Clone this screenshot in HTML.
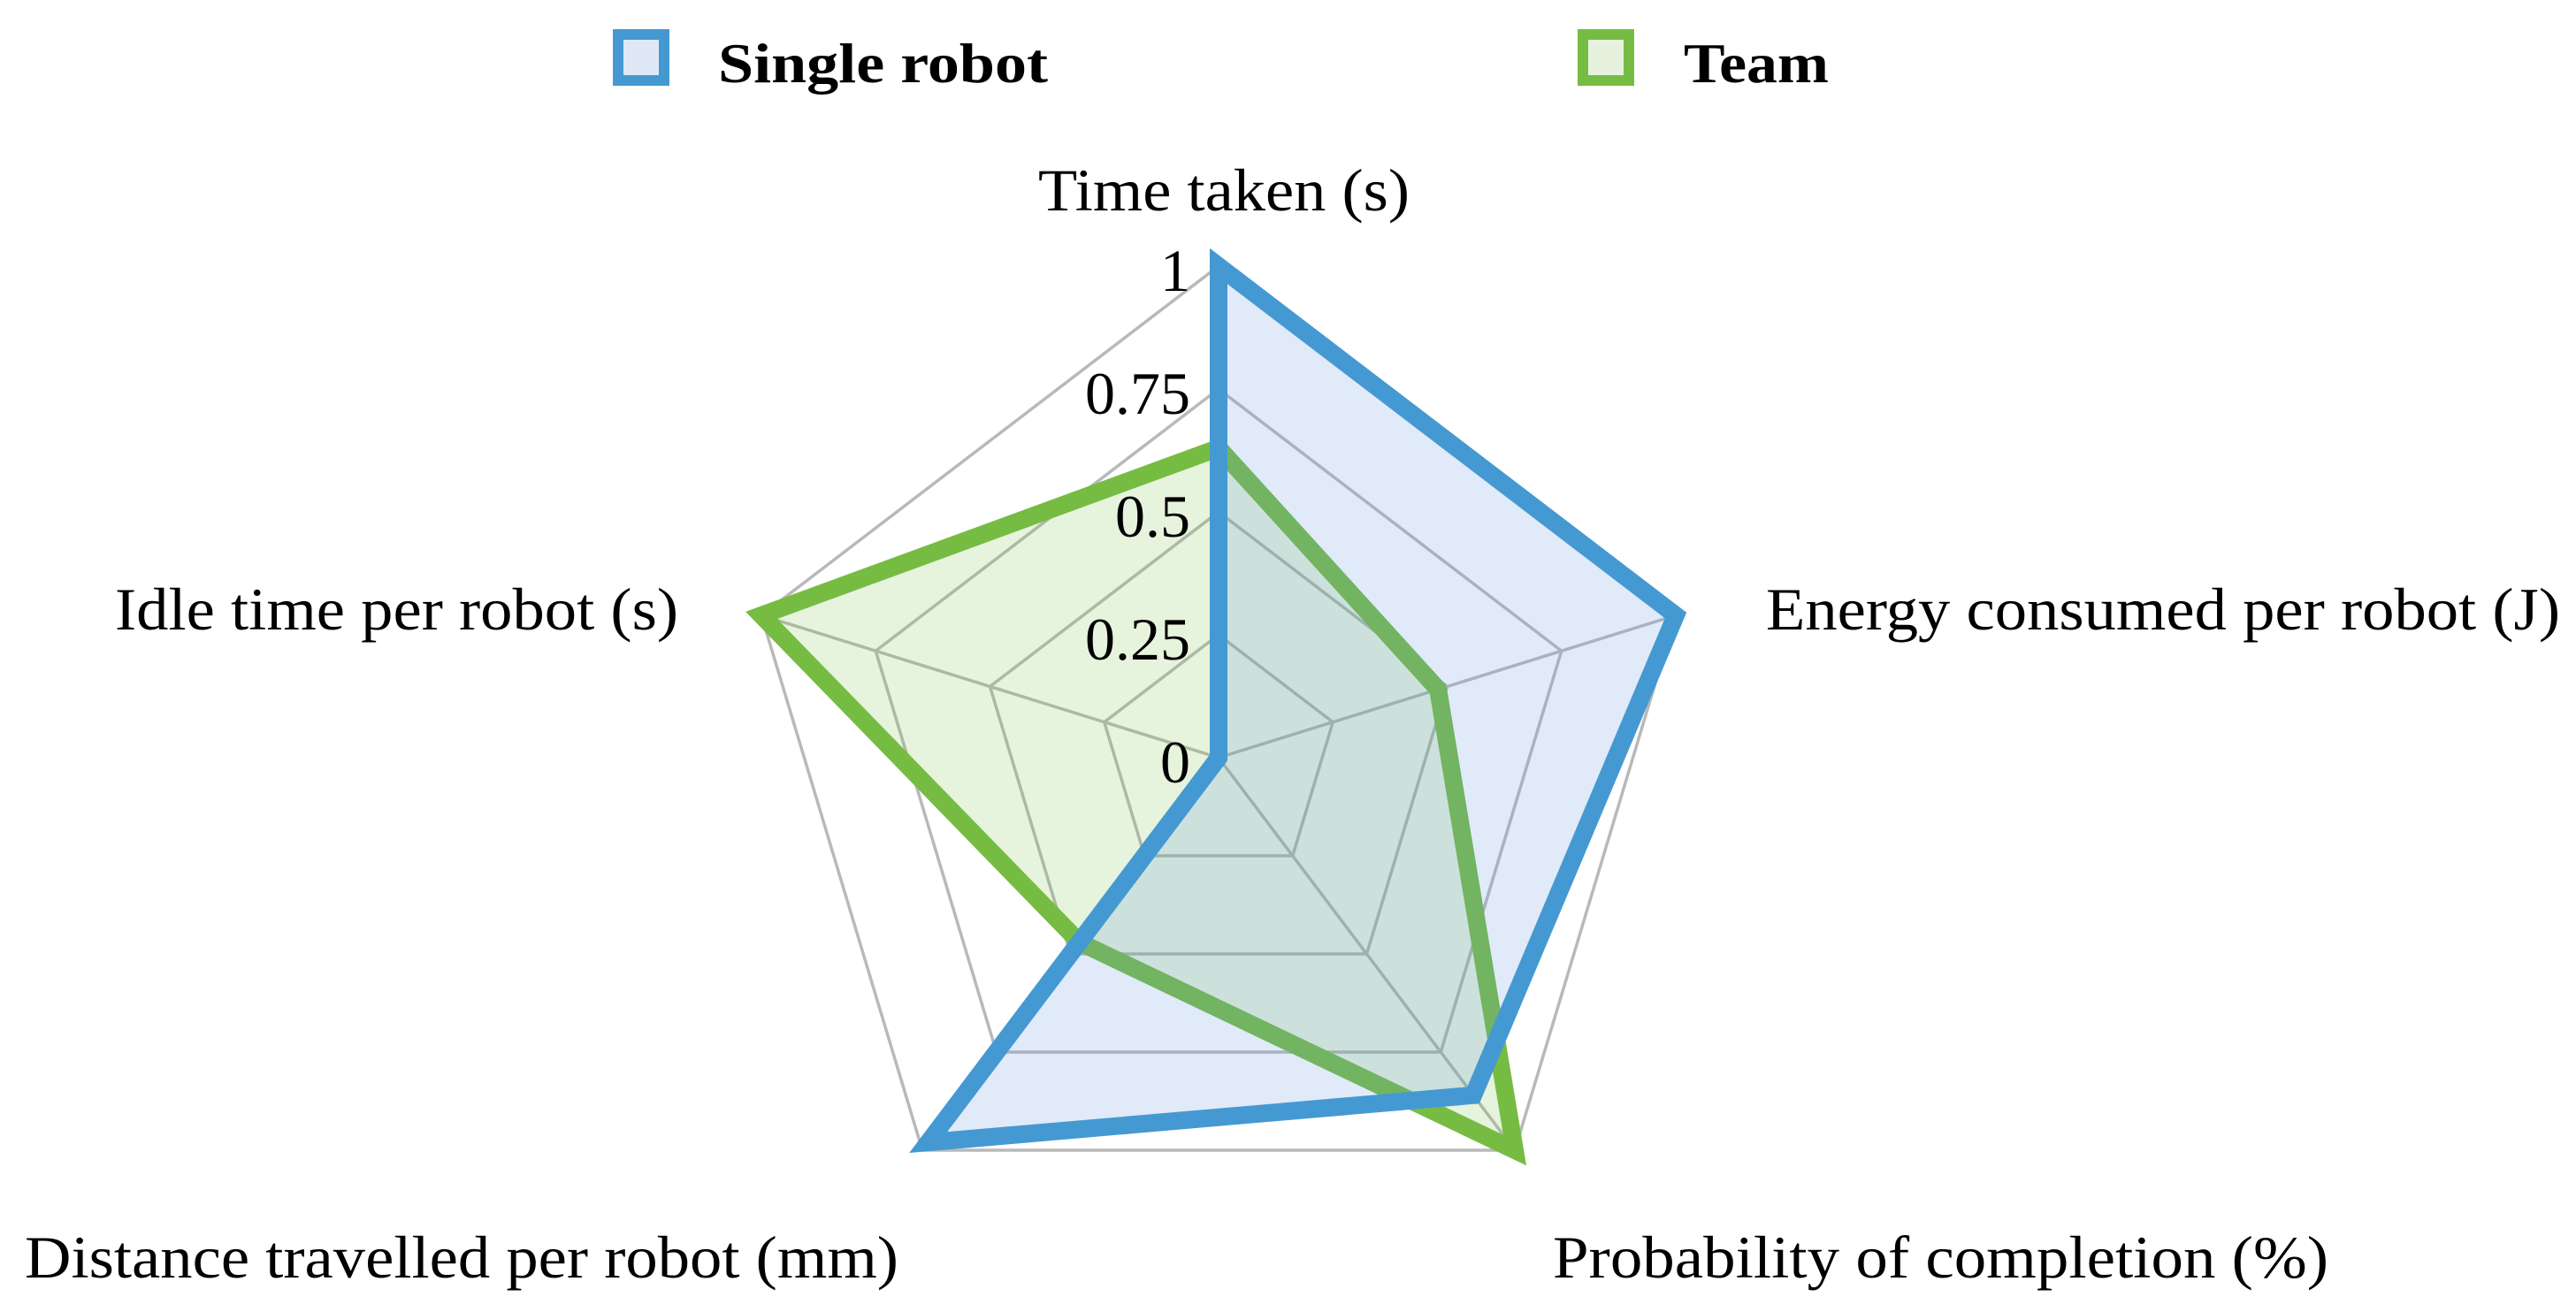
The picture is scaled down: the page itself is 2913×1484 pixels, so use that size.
<!DOCTYPE html>
<html><head><meta charset="utf-8"><style>
html,body{margin:0;padding:0;background:#fff;}
svg{display:block;}
text{font-family:"Liberation Serif",serif;fill:#000;}
</style></head><body>
<svg id="chart" width="2913" height="1484" viewBox="0 0 2913 1484">
<g id="legend">
  <g>
    <rect x="699" y="39" width="52" height="52" fill="#dfe9f6" stroke="#4599d2" stroke-width="12"/>
    <text x="812" y="93" font-size="64" font-weight="bold" textLength="373" lengthAdjust="spacingAndGlyphs">Single robot</text>
  </g>
  <g>
    <rect x="1790" y="39" width="52" height="52" fill="#e6f2dd" stroke="#76bc43" stroke-width="12"/>
    <text x="1904" y="93" font-size="64" font-weight="bold" textLength="164" lengthAdjust="spacingAndGlyphs">Team</text>
  </g>
</g>
<g id="grid"></g>
<g id="series"></g>
<g id="ticks"></g>
<g id="axislabels">
  <text x="1384" y="238" font-size="68" text-anchor="middle" textLength="420" lengthAdjust="spacingAndGlyphs">Time taken (s)</text>
  <text x="1997" y="712" font-size="68" textLength="898" lengthAdjust="spacingAndGlyphs">Energy consumed per robot (J)</text>
  <text x="1756" y="1445" font-size="68" textLength="877" lengthAdjust="spacingAndGlyphs">Probability of completion (%)</text>
  <text x="28" y="1445" font-size="68" textLength="988" lengthAdjust="spacingAndGlyphs">Distance travelled per robot (mm)</text>
  <text x="130" y="712" font-size="68" textLength="637" lengthAdjust="spacingAndGlyphs">Idle time per robot (s)</text>
</g>
</svg>
<script>
const categories = ["Time taken (s)", "Energy consumed per robot (J)", "Probability of completion (%)", "Distance travelled per robot (mm)", "Idle time per robot (s)"];
const singleRobot = [1.0, 1.0, 0.86, 0.98, 0.0];
const team = [0.63, 0.48, 1.0, 0.47, 1.0];
const tickValues = [0, 0.25, 0.5, 0.75, 1];
const tickLabels = ["0", "0.25", "0.5", "0.75", "1"];

const NS = "http://www.w3.org/2000/svg";
const cx = 1378, cy = 857;
const axisVec = [[0,-556],[517,-161],[335,444],[-335,444],[-517,-161]];
function pt(i, v){ return [cx + axisVec[i][0]*v, cy + axisVec[i][1]*v]; }
function poly(vals){ return vals.map((v,i)=>pt(i,v).join(",")).join(" "); }

const grid = document.getElementById("grid");
tickValues.forEach((t,k)=>{
  if(t===0) return;
  const p = document.createElementNS(NS,"polygon");
  p.setAttribute("points", poly(categories.map(()=>t)));
  p.setAttribute("fill","none");
  p.setAttribute("stroke","#b9b9b9");
  p.setAttribute("stroke-width","3.5");
  
  
  grid.appendChild(p);
});
categories.forEach((c,i)=>{
  const e = pt(i,1);
  const l = document.createElementNS(NS,"line");
  l.setAttribute("x1",cx); l.setAttribute("y1",cy);
  l.setAttribute("x2",e[0]); l.setAttribute("y2",e[1]);
  l.setAttribute("stroke","#b9b9b9");
  l.setAttribute("stroke-width","3.5");
  
  
  grid.appendChild(l);
});

const series = document.getElementById("series");
function drawSeries(vals, stroke, fill, name){
  const p = document.createElementNS(NS,"polygon");
  p.setAttribute("points", poly(vals));
  p.setAttribute("fill", fill);
  p.setAttribute("stroke", stroke);
  p.setAttribute("stroke-width","20");
  p.setAttribute("stroke-linejoin","miter");
  p.setAttribute("stroke-miterlimit","10");
  
  
  series.appendChild(p);
}
drawSeries(team, "#76bc43", "rgba(118,188,67,0.18)", "series-team");
drawSeries(singleRobot, "#4599d2", "rgba(100,150,220,0.2)", "series-single-robot");

const ticks = document.getElementById("ticks");
tickValues.forEach((t,k)=>{
  const y = pt(0,t)[1];
  const tx = document.createElementNS(NS,"text");
  tx.setAttribute("x", 1346);
  tx.setAttribute("y", y + 28);
  tx.setAttribute("font-size","68");
  tx.setAttribute("text-anchor","end");
  tx.textContent = tickLabels[k];
  
  
  ticks.appendChild(tx);
});
</script>
</body></html>
